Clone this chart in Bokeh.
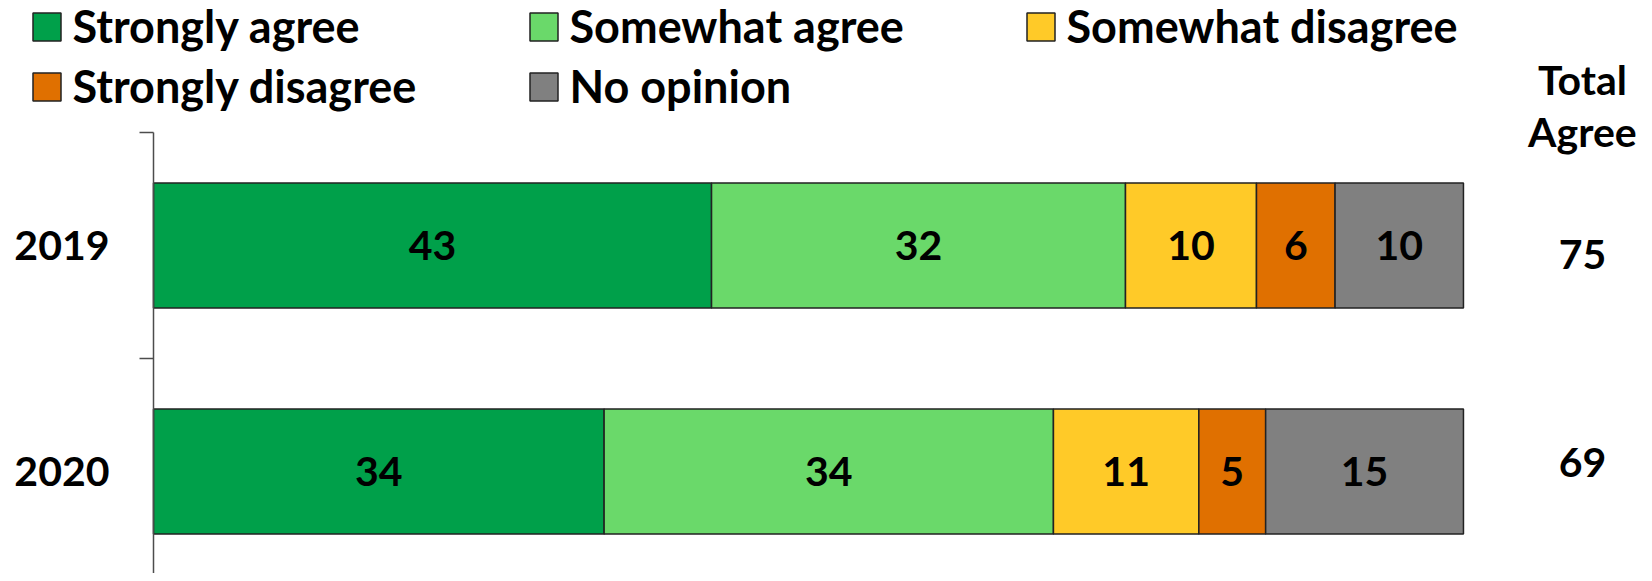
import numpy as np
from bokeh.plotting import figure
from bokeh.models import Range1d, LinearAxis, FixedTicker, Legend, LegendItem, ColumnDataSource
from bokeh.core.properties import value
from bokeh.embed import file_html
from bokeh.resources import INLINE

# ---------------- data ----------------
years = ["2019", "2020"]
series = ["Strongly agree", "Somewhat agree", "Somewhat disagree", "Strongly disagree", "No opinion"]
# bar widths
strongly_agree = [42.6, 34.4]
somewhat_agree = [31.6, 34.3]
somewhat_disagree = [10.0, 11.1]
strongly_disagree = [6.0, 5.1]
no_opinion = [9.8, 15.1]
# printed labels
label_strongly_agree = [43, 34]
label_somewhat_agree = [32, 34]
label_somewhat_disagree = [10, 11]
label_strongly_disagree = [6, 5]
label_no_opinion = [10, 15]
total_agree = [75, 69]
colors = ["#00A04A", "#6AD96A", "#FFCA28", "#E07000", "#808080"]

values = [strongly_agree, somewhat_agree, somewhat_disagree, strongly_disagree, no_opinion]
labels = [label_strongly_agree, label_somewhat_agree, label_somewhat_disagree,
          label_strongly_disagree, label_no_opinion]

FONT = value("Lato")
NUM_SIZE = "41px"

pos = list(range(len(years)))

p = figure(width=1644, height=573, output_backend="svg", toolbar_location=None,
           x_axis_type=None, y_axis_type=None,
           x_range=Range1d(-11.679, 113.82), y_range=Range1d(1.4513, -1.0841),
           min_border_left=0, min_border_right=0, min_border_top=0, min_border_bottom=0)
p.outline_line_color = None
p.background_fill_color = "white"

# y axis (drawn at x = 0 inside the frame)
yaxis = LinearAxis(ticker=FixedTicker(ticks=pos, minor_ticks=[-0.5, 0.5, 1.5]))
yaxis.fixed_location = 0
yaxis.major_label_overrides = {i: y for i, y in enumerate(years)}
yaxis.bounds = (-0.5, 1.4513)
yaxis.axis_line_color = "#4d4d4d"
yaxis.axis_line_width = 1.5
yaxis.major_tick_out = 0
yaxis.major_tick_in = 0
yaxis.minor_tick_out = 14
yaxis.minor_tick_in = 0
yaxis.minor_tick_line_color = "#4d4d4d"
yaxis.minor_tick_line_width = 1.5
yaxis.major_label_standoff = 30
yaxis.major_label_text_font = "Lato"
yaxis.major_label_text_font_style = "bold"
yaxis.major_label_text_font_size = NUM_SIZE
yaxis.major_label_text_color = "black"
p.add_layout(yaxis, "left")

# stacked bars
left = np.zeros(len(years))
renderers = []
lab_x, lab_y, lab_t = [], [], []
for name, vals, labs, col in zip(series, values, labels, colors):
    vals = np.array(vals, dtype=float)
    right = left + vals
    src = ColumnDataSource(dict(y=pos, left=left.copy(), right=right.copy()))
    r = p.hbar(y="y", left="left", right="right", height=0.553, source=src,
               fill_color=col, line_color="#222222", line_width=1.5)
    renderers.append(r)
    for i in pos:
        lab_x.append((left[i] + right[i]) / 2)
        lab_y.append(i)
        lab_t.append(str(labs[i]))
    left = right

p.text(x=lab_x, y=lab_y, text=lab_t, text_align="center", text_baseline="middle",
       text_font=FONT, text_font_style="bold", text_font_size=NUM_SIZE, text_color="black")

# Total agree column
tot_x = 109.08
p.text(x=[tot_x] * len(years), y=pos, y_offset=[9, -9], text=[str(t) for t in total_agree],
       text_align="center", text_baseline="middle",
       text_font=FONT, text_font_style="bold", text_font_size=NUM_SIZE, text_color="black")
p.text(x=[tot_x, tot_x], y=[-0.735, -0.503], text=["Total", "Agree"],
       text_align="center", text_baseline="middle",
       text_font=FONT, text_font_style="bold", text_font_size=NUM_SIZE, text_color="black")

# legends
def make_legend(items, loc):
    lg = Legend(items=items, location=loc, orientation="horizontal")
    lg.glyph_width = 35
    lg.glyph_height = 35
    lg.label_standoff = 9
    lg.label_width = 453
    lg.spacing = 0
    lg.padding = 0
    lg.margin = 0
    lg.border_line_color = None
    lg.background_fill_alpha = 0
    lg.label_text_font = "Lato"
    lg.label_text_font_style = "bold"
    lg.label_text_font_size = "45px"
    lg.label_text_color = "black"
    return lg

items = [LegendItem(label=s, renderers=[r]) for s, r in zip(series, renderers)]
p.add_layout(make_legend(items[:3], (28.5, 519.8)))
p.add_layout(make_legend(items[3:], (28.5, 459.8)))

open("out.html", "w").write(file_html(p, INLINE))
